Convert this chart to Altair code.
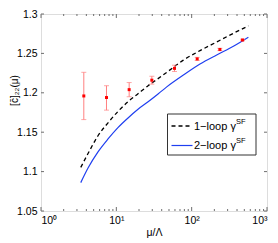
import altair as alt
import pandas as pd

# --- data ---
curve_x = [3.37, 4.21, 5.71, 7.76, 10.5, 14.3, 19.4, 26.4, 35.8, 46.7, 77.6, 129, 215, 358, 566]
one_loop = [1.1053, 1.1229, 1.1455, 1.1619, 1.1763, 1.1886, 1.1988, 1.2090, 1.2180, 1.2260, 1.2415, 1.2535, 1.2645, 1.2755, 1.2849]
two_loop = [1.0860, 1.1045, 1.1250, 1.1414, 1.1558, 1.1681, 1.1791, 1.1886, 1.1985, 1.2075, 1.2225, 1.2365, 1.2480, 1.2590, 1.2705]

pt_x = [3.7, 7.4, 14.8, 29.6, 59.2, 118.4, 236.8, 473.6]
pt_y = [1.196, 1.194, 1.204, 1.216, 1.231, 1.243, 1.255, 1.267]
pt_lo = [1.166, 1.178, 1.195, 1.211, 1.227, 1.241, 1.2535, 1.266]
pt_hi = [1.226, 1.209, 1.213, 1.221, 1.235, 1.245, 1.2565, 1.268]

y_ticks = [1.05, 1.1, 1.15, 1.2, 1.25, 1.3]
x_major = [1, 10, 100, 1000]
x_minor = [m * d for d in (1, 10, 100) for m in range(2, 10)]

W, H = 226, 197
FONT = "Liberation Sans"
FRAME = "#6e6e6e"

xs = alt.Scale(type="log", domain=[1, 1000])
ys = alt.Scale(domain=[1.05, 1.3])

curves = pd.DataFrame({"x": curve_x, "one": one_loop, "two": two_loop})
pts = pd.DataFrame({"x": pt_x, "y": pt_y, "lo": pt_lo, "hi": pt_hi})
yt = pd.DataFrame({"y": y_ticks})
xmaj = pd.DataFrame({"x": x_major})
xmin = pd.DataFrame({"x": x_minor})
one = pd.DataFrame({"a": [0]})

xaxis = alt.Axis(values=x_major, ticks=False, domain=False, grid=False,
                 labelExpr="'10' + ['⁰','¹','²','³'][round(log(datum.value)/LN10)]",
                 labelFont=FONT, labelFontSize=10.5, labelColor="#000",
                 labelPadding=4, title="μ/Λ", titleFont=FONT,
                 titleFontSize=10.5, titleFontWeight="normal", titleColor="#000",
                 titlePadding=2)
yaxis = alt.Axis(values=y_ticks, ticks=False, domain=False, grid=False,
                 format=".2~f", labelFont=FONT, labelFontSize=10.5,
                 labelColor="#000", labelPadding=4,
                 title="[c̄]₂₂(μ)", titleFont=FONT, titleFontSize=10,
                 titleFontWeight="normal", titleColor="#000",
                 titleX=-27, titleY=76, titleBaseline="middle", titleAngle=270)


def X(f="x:Q"):
    return alt.X(f, scale=xs, axis=xaxis)


def Y(f):
    return alt.Y(f, scale=ys, axis=yaxis)


line1 = alt.Chart(curves).mark_line(color="black", strokeDash=[4, 3], strokeWidth=1.3,
                                    interpolate="monotone").encode(x=X(), y=Y("one:Q"))
line2 = alt.Chart(curves).mark_line(color="#1f3ff0", strokeWidth=1.2,
                                    interpolate="monotone").encode(x=X(), y=Y("two:Q"))

err = alt.Chart(pts).mark_rule(color="#ff8080", strokeWidth=1).encode(
    x=X(), y=Y("lo:Q"), y2="hi:Q")
cap_lo = alt.Chart(pts).mark_tick(color="#ff8080", orient="horizontal", size=5, thickness=1).encode(
    x=X(), y=Y("lo:Q"))
cap_hi = alt.Chart(pts).mark_tick(color="#ff8080", orient="horizontal", size=5, thickness=1).encode(
    x=X(), y=Y("hi:Q"))
dots = alt.Chart(pts).mark_square(color="#ff0000", size=9, opacity=1).encode(
    x=X(), y=Y("y:Q"))

# inward ticks
ytl = alt.Chart(yt).mark_rule(color=FRAME).encode(
    y=Y("y:Q"), x=alt.value(0), x2=alt.value(3))
ytr = alt.Chart(yt).mark_rule(color=FRAME).encode(
    y=Y("y:Q"), x=alt.value(W - 3), x2=alt.value(W))
xmb = alt.Chart(xmaj).mark_rule(color=FRAME).encode(
    x=X(), y=alt.value(H), y2=alt.value(H - 4))
xmt = alt.Chart(xmaj).mark_rule(color=FRAME).encode(
    x=X(), y=alt.value(0), y2=alt.value(4))
xnb = alt.Chart(xmin).mark_rule(color=FRAME).encode(
    x=X(), y=alt.value(H), y2=alt.value(H - 2))
xnt = alt.Chart(xmin).mark_rule(color=FRAME).encode(
    x=X(), y=alt.value(0), y2=alt.value(2))

# legend
LY = 100
box = alt.Chart(one).mark_rect(fill="white", stroke="#333", strokeWidth=1).encode(
    x=alt.value(126.5), x2=alt.value(215), y=alt.value(LY), y2=alt.value(LY + 41))
leg1 = alt.Chart(one).mark_rule(color="black", strokeDash=[4, 3], strokeWidth=1.3).encode(
    x=alt.value(130.5), x2=alt.value(151.5), y=alt.value(LY + 12))
leg2 = alt.Chart(one).mark_rule(color="#1f3ff0", strokeWidth=1.2).encode(
    x=alt.value(130.5), x2=alt.value(151.5), y=alt.value(LY + 31.5))
t1 = alt.Chart(one).mark_text(align="left", baseline="middle", font=FONT, fontSize=11).encode(
    x=alt.value(153), y=alt.value(LY + 12.5), text=alt.value("1−loop γ"))
t2 = alt.Chart(one).mark_text(align="left", baseline="middle", font=FONT, fontSize=11).encode(
    x=alt.value(153), y=alt.value(LY + 32), text=alt.value("2−loop γ"))
s1 = alt.Chart(one).mark_text(align="left", baseline="middle", font=FONT, fontSize=7.5).encode(
    x=alt.value(195), y=alt.value(LY + 7.5), text=alt.value("SF"))
s2 = alt.Chart(one).mark_text(align="left", baseline="middle", font=FONT, fontSize=7.5).encode(
    x=alt.value(195), y=alt.value(LY + 27), text=alt.value("SF"))

chart = alt.layer(
    line1, line2, err, cap_lo, cap_hi, dots,
    ytl, ytr, xmb, xmt, xnb, xnt,
    box, leg1, leg2, t1, t2, s1, s2,
).properties(
    width=W, height=H,
    autosize=alt.AutoSizeParams(type="none"),
    padding={"left": 33, "top": 6, "right": 3, "bottom": 30},
).configure_view(stroke=FRAME, strokeWidth=1).configure(background="white")

chart.save("out.html", embed_options={"renderer": "svg", "actions": False})
